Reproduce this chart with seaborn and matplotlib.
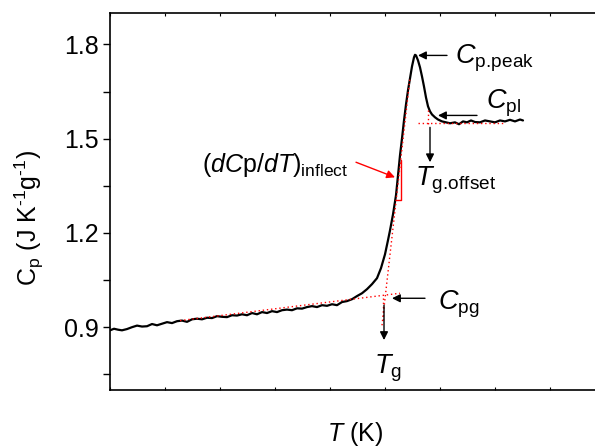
import numpy as np
import matplotlib
matplotlib.use("Agg")
import matplotlib.pyplot as plt
import seaborn as sns
import pandas as pd

# Heat capacity scan through the glass transition
T = [250.0, 250.8, 251.6, 252.4, 253.4, 254.4, 255.4, 256.4, 257.4, 258.4,
     259.4, 260.4, 261.4, 262.4, 263.4, 264.4, 265.4, 266.4, 267.4, 268.4,
     269.4, 270.4, 271.4, 272.4, 273.4, 274.4, 275.4, 276.4, 277.4, 278.4,
     279.4, 280.4, 281.4, 282.4, 283.4, 284.4, 285.4, 286.4, 287.4, 288.4,
     289.4, 290.4, 291.4, 292.4, 293.4, 294.4, 295.4, 296.4, 297.4, 298.4,
     299.4, 300.4, 301.4, 302.4, 303.4, 304.2, 305.0, 305.6, 306.0, 306.6,
     307.2, 307.6, 308.0, 308.4, 308.8, 309.2, 309.6, 310.0, 310.4, 310.8,
     311.0, 311.2, 311.6, 312.0, 312.4, 312.8, 313.2, 313.6, 314.0, 314.4,
     315.0, 315.6, 316.4, 317.2, 318.0, 319.0, 319.8, 320.6, 321.4, 322.2,
     323.0, 324.0, 325.0, 326.0, 327.0, 328.0, 329.0, 330.0, 331.0, 332.0,
     332.6]
Cp = [0.890, 0.895, 0.892, 0.890, 0.894, 0.900, 0.905, 0.902, 0.903, 0.910,
      0.906, 0.911, 0.916, 0.913, 0.919, 0.921, 0.917, 0.925, 0.927, 0.925,
      0.930, 0.929, 0.935, 0.933, 0.932, 0.938, 0.937, 0.941, 0.938, 0.945,
      0.941, 0.948, 0.945, 0.951, 0.948, 0.954, 0.956, 0.954, 0.960, 0.959,
      0.964, 0.967, 0.964, 0.970, 0.968, 0.973, 0.970, 0.980, 0.983, 0.989,
      0.999, 1.008, 1.021, 1.037, 1.056, 1.088, 1.132, 1.177, 1.208, 1.259,
      1.320, 1.383, 1.447, 1.501, 1.558, 1.609, 1.654, 1.692, 1.730, 1.759,
      1.767, 1.765, 1.749, 1.727, 1.698, 1.666, 1.631, 1.603, 1.587, 1.577,
      1.568, 1.561, 1.555, 1.552, 1.549, 1.552, 1.546, 1.555, 1.552, 1.558,
      1.553, 1.552, 1.558, 1.555, 1.552, 1.558, 1.555, 1.560, 1.555, 1.561,
      1.558]

# Construction lines (start/end points)
glass_baseline_T = [264.0, 308.0]
glass_baseline_Cp = [0.921, 1.008]
tangent_T = [304.4, 310.0]
tangent_Cp = [0.906, 1.694]
liquid_line_T = [311.6, 329.0]
liquid_line_Cp = [1.549, 1.549]

y_major = [0.9, 1.2, 1.5, 1.8]
y_minor = [0.75, 1.05, 1.35, 1.65]

sns.set_style("ticks")
plt.rcParams['font.family'] = ['Liberation Sans', 'DejaVu Sans']
plt.rcParams['mathtext.fontset'] = 'custom'
plt.rcParams['mathtext.rm'] = 'Liberation Sans'
plt.rcParams['mathtext.it'] = 'Liberation Sans:italic'
plt.rcParams['mathtext.bf'] = 'Liberation Sans:bold'
for key in ('text.color', 'axes.labelcolor', 'xtick.color', 'ytick.color',
            'axes.edgecolor'):
    plt.rcParams[key] = 'black'

fig = plt.figure(figsize=(5.95, 4.47), dpi=100)
ax = fig.add_axes([0.1849, 0.1275, 0.8319, 0.8434])

df = pd.DataFrame({"T": T, "Cp": Cp})
sns.lineplot(data=df, x="T", y="Cp", ax=ax, color="black", lw=1.6, sort=False)

dot = dict(color="red", lw=1.0, ls=(0, (1, 2)))
ax.plot(glass_baseline_T, glass_baseline_Cp, **dot)
ax.plot(tangent_T, tangent_Cp, **dot)
ax.plot(liquid_line_T, liquid_line_Cp, **dot)
ax.plot([304.6, 304.6], [0.992, 0.922], **dot)
ax.plot([313.6, 313.6], [1.590, 1.542], **dot)

# slope triangle at the inflection point
ax.plot([308.2, 308.2, 307.1], [1.431, 1.304, 1.304], color="red", lw=1.0)

arrow_k = dict(arrowstyle="-|>", color="black", lw=1.0, mutation_scale=12,
               shrinkA=0, shrinkB=0)
arrow_r = dict(arrowstyle="-|>", color="red", lw=1.0, mutation_scale=12,
               shrinkA=0, shrinkB=0)
fs = 19.5

ax.annotate("", xy=(311.6, 1.765), xytext=(317.4, 1.765), arrowprops=arrow_k)
ax.text(319.0, 1.755, r"$C_{\mathrm{p.\!peak}}$", fontsize=fs, ha="left", va="center")

ax.annotate("", xy=(315.6, 1.574), xytext=(323.4, 1.574), arrowprops=arrow_k)
ax.text(325.2, 1.612, r"$C_{\mathrm{pl}}$", fontsize=fs, ha="left", va="center")

ax.annotate("", xy=(314.0, 1.425), xytext=(314.0, 1.536), arrowprops=arrow_k)
ax.text(311.0, 1.367, r"$T_{\mathrm{g.\!offset}}$", fontsize=fs, ha="left", va="center")

ax.annotate("", xy=(304.8, 0.859), xytext=(304.8, 0.970), arrowprops=arrow_k)
ax.text(305.6, 0.770, r"$T_{\mathrm{g}}$", fontsize=fs, ha="center", va="center")

ax.annotate("", xy=(306.4, 0.992), xytext=(313.0, 0.992), arrowprops=arrow_k)
ax.text(315.6, 0.973, r"$C_{\mathrm{pg}}$", fontsize=fs, ha="left", va="center")

ax.annotate("", xy=(307.0, 1.377), xytext=(299.2, 1.425), arrowprops=arrow_r)
ax.text(268.4, 1.415, r"$(dC\mathrm{p}/dT)_{\mathrm{inflect}}$", fontsize=18,
        ha="left", va="center")

ax.set_xlim(250, 349)
ax.set_ylim(0.70, 1.90)
ax.set_xticks(np.arange(250, 350, 11))
ax.set_xticklabels([])
ax.set_yticks(y_major)
ax.set_yticks(y_minor, minor=True)
ax.set_yticklabels([f"{v:.1f}" for v in y_major])
ax.tick_params(axis="y", which="both", direction="out", length=5, width=1,
               labelsize=18, pad=3)
ax.tick_params(axis="x", which="both", direction="in", length=2.5, width=0.8,
               top=True, bottom=True)
for s in ax.spines.values():
    s.set_linewidth(1.2)
    s.set_visible(True)

ax.set_xlabel(r"$T$ (K)", fontsize=18)
ax.set_ylabel(r"C$_{\mathrm{p}}$ (J K$^{\text{-}1}$g$^{\text{-}1}$)", fontsize=18)
ax.xaxis.set_label_coords(0.495, -0.08)
ax.yaxis.set_label_coords(-0.130, 0.456)

fig.savefig("out.png", dpi=100)
